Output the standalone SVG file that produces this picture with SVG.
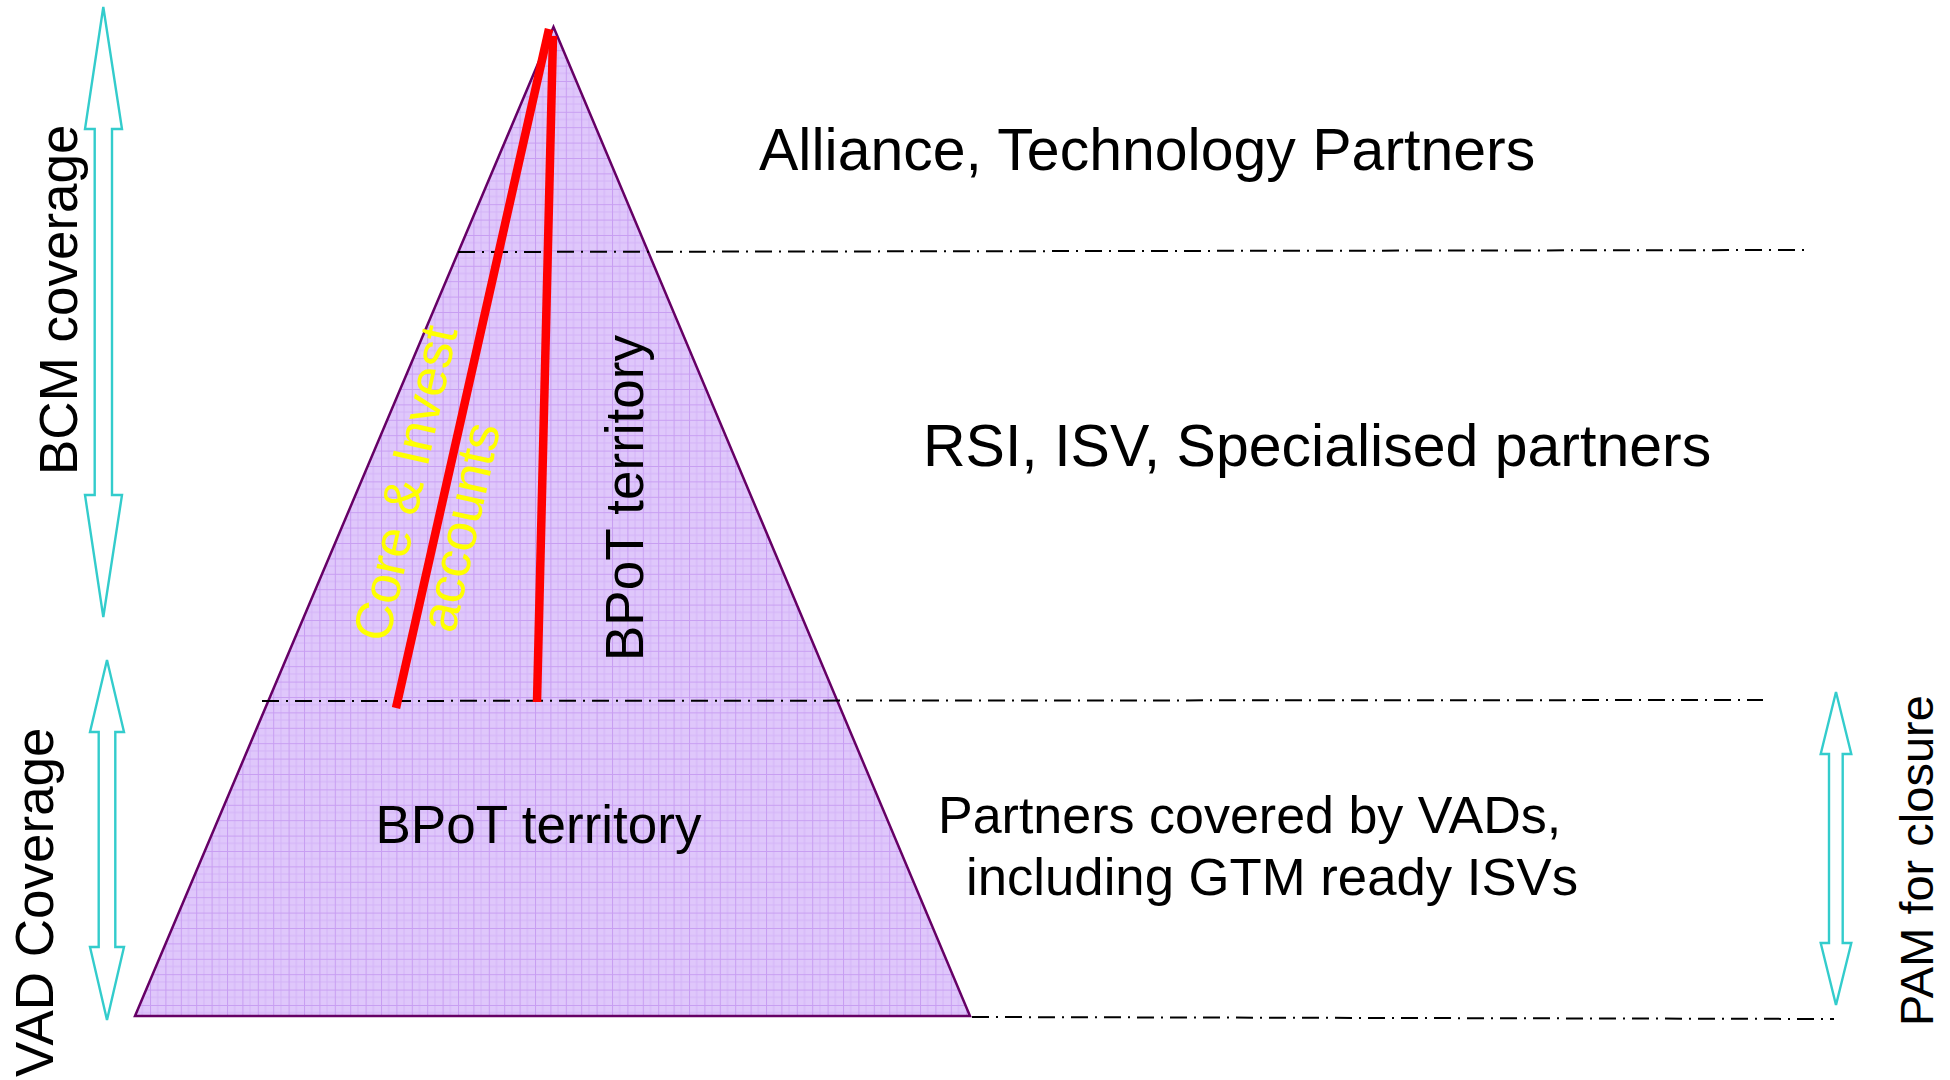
<svg xmlns="http://www.w3.org/2000/svg" width="1950" height="1080" viewBox="0 0 1950 1080">
  <defs>
    <pattern id="grid" patternUnits="userSpaceOnUse" x="11.4" y="4" width="15.4" height="15.4">
      <rect width="15.4" height="15.4" fill="#dfc7fb"/>
      <path d="M7.7 0V15.4M0 7.7H15.4" stroke="#d4b4f8" stroke-width="1" fill="none"/>
      <path d="M0.5 0V15.4M0 0.5H15.4" stroke="#c89ef2" stroke-width="1" fill="none"/>
    </pattern>
    <style>
      .lbl { font-family: "Liberation Sans", Arial, sans-serif; fill: #000; }
      .big { font-size: 59px; }
      .mid { font-size: 53px; }
      .sml { font-size: 47px; }
      .core { font-family: "Liberation Sans", Arial, sans-serif; font-size: 53px; fill: #ffff00; }
      .dashdot { stroke: #000; stroke-width: 2; fill: none; stroke-dasharray: 17 7 2 7; }
      .span { fill: #fff; stroke: #33cccc; stroke-width: 2.4; stroke-linejoin: miter; }
      .red { stroke: #ff0000; stroke-width: 8.5; fill: none; }
    </style>
  </defs>
  <rect width="1950" height="1080" fill="#fff"/>

  <!-- pyramid -->
  <g id="pyramid">
    <polygon points="553.5,27 970,1016 135,1016" fill="url(#grid)" stroke="#660066" stroke-width="2.5" stroke-linejoin="miter"/>
  </g>

  <!-- tier boundaries -->
  <g id="connectors">
    <line class="dashdot" x1="458" y1="252" x2="1804" y2="250"/>
    <line class="dashdot" x1="262" y1="701" x2="1763" y2="700"/>
    <line class="dashdot" x1="972" y1="1017" x2="1834" y2="1019"/>
    <line class="red" x1="549" y1="29" x2="396" y2="708"/>
    <line class="red" x1="553" y1="36" x2="537" y2="702"/>
  </g>

  <!-- span arrows -->
  <g id="bcm-arrow">
    <polygon class="span" points="103.3,7 122,129 112,129 112,495 122,495 103.3,617 85,495 94.7,495 94.7,129 85,129"/>
    <text class="lbl mid" transform="translate(77.3,475) rotate(-90)">BCM coverage</text>
  </g>
  <g id="vad-arrow">
    <polygon class="span" points="107,660 124,732 115.3,732 115.3,947 124,947 107,1020 90,947 98.7,947 98.7,732 90,732"/>
    <text class="lbl mid" transform="translate(53.3,1077) rotate(-90)">VAD Coverage</text>
  </g>
  <g id="pam-arrow">
    <polygon class="span" points="1836,692 1851.3,754 1842.7,754 1842.7,943 1851.3,943 1836,1005 1820.7,943 1829,943 1829,754 1820.7,754"/>
    <text class="lbl sml" transform="translate(1933,1026) rotate(-90)">PAM for closure</text>
  </g>

  <!-- labels inside the pyramid -->
  <g id="core-accounts">
    <text class="core" text-anchor="middle" transform="translate(423,487) rotate(-77.5)">Core &amp; Invest</text>
    <text class="core" text-anchor="middle" transform="translate(477.5,531) rotate(-77.5)">accounts</text>
  </g>
  <g id="bpot-upper">
    <text class="lbl mid" transform="translate(643,661) rotate(-90)">BPoT territory</text>
  </g>
  <g id="bpot-lower">
    <text class="lbl mid" x="375.5" y="843">BPoT territory</text>
  </g>

  <!-- tier labels -->
  <g id="tier-alliance">
    <text class="lbl big" x="759" y="170">Alliance, Technology Partners</text>
  </g>
  <g id="tier-rsi">
    <text class="lbl big" x="923" y="466">RSI, ISV, Specialised partners</text>
  </g>
  <g id="tier-vad">
    <text class="lbl" font-size="52" x="938" y="833">Partners covered by VADs,</text>
    <text class="lbl" font-size="52.7" x="966" y="895">including GTM ready ISVs</text>
  </g>
</svg>
